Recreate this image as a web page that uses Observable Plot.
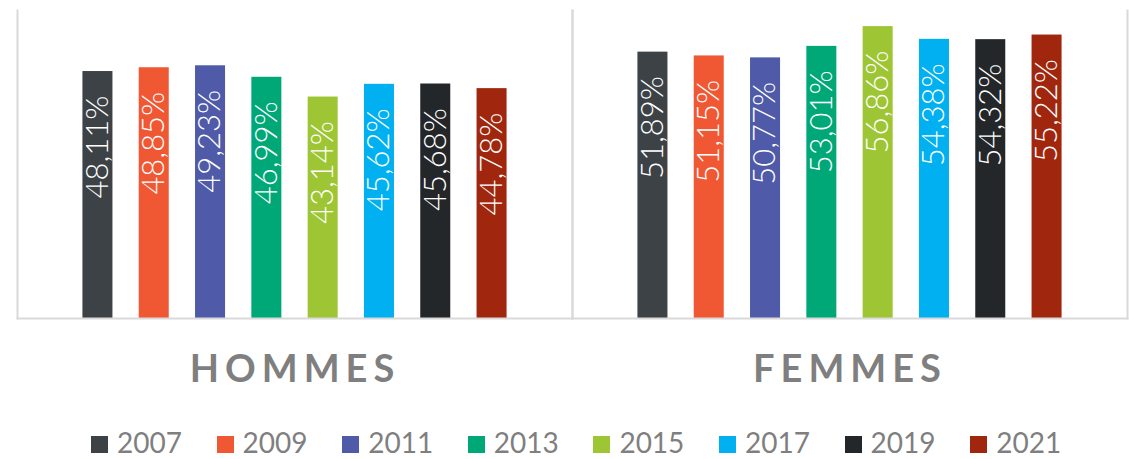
<!DOCTYPE html>
<html>
<head>
<meta charset="utf-8">
<script src="https://cdn.jsdelivr.net/npm/d3@7"></script>
<script src="https://cdn.jsdelivr.net/npm/@observablehq/plot@0.6"></script>
<style>
  html, body { margin: 0; padding: 0; background: #fff; }
  #chart { width: 1129px; }
  #legend { position: relative; width: 1129px; height: 39px; font-family: Lato, sans-serif; }
  .sw { position: absolute; top: 16px; width: 17px; height: 17px; }
  .lb { position: absolute; top: 8px; font-size: 28px; line-height: 28px; color: #7f7f7f; white-space: nowrap; }
</style>
</head>
<body>
<div id="chart"></div>
<script>
const years = ["2007", "2009", "2011", "2013", "2015", "2017", "2019", "2021"];
const groups = ["HOMMES", "FEMMES"];
const hommes = [48.11, 48.85, 49.23, 46.99, 43.14, 45.62, 45.68, 44.78];
const femmes = [51.89, 51.15, 50.77, 53.01, 56.86, 54.38, 54.32, 55.22];
const colors = ["#3d4246", "#f05733", "#4f5aa8", "#00a878", "#9dc534", "#00b0f0", "#24272a", "#a0270d"];

const data = [];
years.forEach((y, i) => data.push({group: groups[0], year: y, value: hommes[i]}));
years.forEach((y, i) => data.push({group: groups[1], year: y, value: femmes[i]}));

const fmt = v => v.toFixed(2).replace(".", ",") + "%";

const chart = Plot.plot({
  width: 1129,
  height: 420,
  marginLeft: 17,
  marginRight: 2,
  marginTop: 10,
  marginBottom: 102,
  style: {fontFamily: "Lato, sans-serif", background: "#fff"},
  fx: {domain: groups, padding: 0, label: null},
  x: {domain: years, paddingInner: 0.467, paddingOuter: 1.162, round: false, axis: null},
  y: {domain: [0, 60], axis: null},
  color: {domain: years, range: colors},
  marks: [
    Plot.barY(data, {fx: "group", x: "year", y: "value", fill: "year"}),
    Plot.text(data, {fx: "group", x: "year", y: "value", text: d => fmt(d.value), rotate: -90, textAnchor: "end",
      fill: "white", fontSize: 31, fontWeight: 300, dy: 24}),
    Plot.frame({anchor: "left", stroke: "#d9d9d9", strokeWidth: 2}),
    Plot.frame({anchor: "right", stroke: "#d9d9d9", strokeWidth: 2}),
    Plot.frame({anchor: "bottom", stroke: "#d9d9d9", strokeWidth: 2}),
    Plot.axisFx({anchor: "bottom", tickSize: 0, tickPadding: 37, fontSize: 38, fontWeight: 700, fill: "#7f7f7f", label: null})
  ]
});
chart.querySelectorAll('[aria-label="fx-axis tick label"] text').forEach(t => t.style.letterSpacing = "6px");
document.getElementById("chart").appendChild(chart);

const legend = document.createElement("div");
legend.id = "legend";
years.forEach((y, i) => {
  const x0 = 91 + i * 125.6;
  const sw = document.createElement("div");
  sw.className = "sw";
  sw.style.left = x0 + "px";
  sw.style.background = colors[i];
  const lb = document.createElement("div");
  lb.className = "lb";
  lb.style.left = (x0 + 26) + "px";
  lb.textContent = y;
  legend.appendChild(sw);
  legend.appendChild(lb);
});
document.getElementById("chart").appendChild(legend);
</script>
</body>
</html>
